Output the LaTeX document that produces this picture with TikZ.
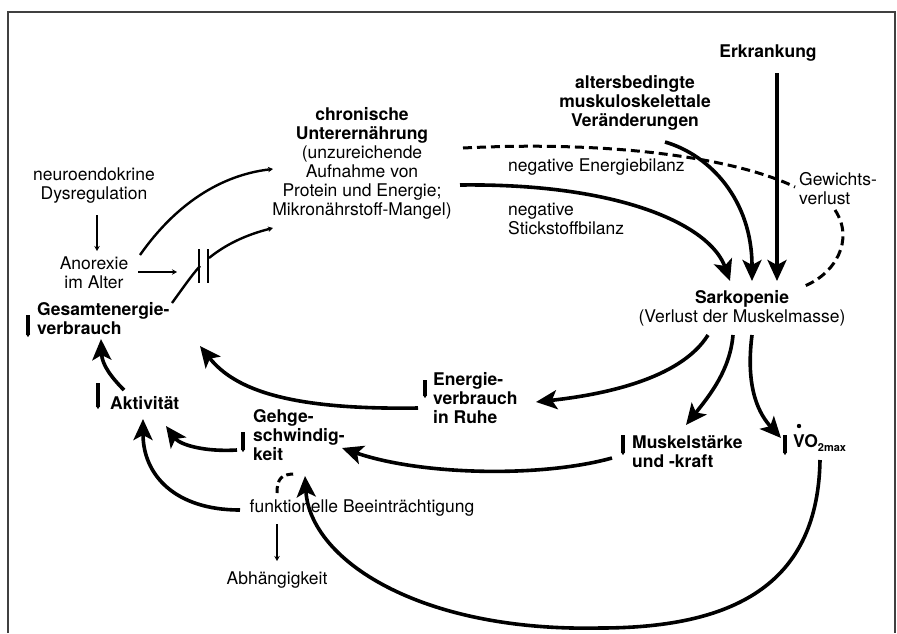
\documentclass[tikz,border=0pt]{standalone}
\usepackage{fontspec}
\setmainfont{TeX Gyre Heros}
\usetikzlibrary{arrows.meta}
\begin{document}
\begin{tikzpicture}[x=1pt,y=-1pt,
  txt/.style={font=\fontsize{17.5}{19}\selectfont, inner sep=0pt, align=center},
  btxt/.style={txt, font=\fontsize{17.5}{19}\selectfont\bfseries},
  bigarrow/.style={line width=3.6pt, -{Stealth[length=21pt,width=19pt,inset=5pt]}},
  thinarrow/.style={line width=2.4pt, -{Stealth[length=5pt,width=5.5pt]}},
  plainline/.style={line width=2.4pt},
  dashline/.style={line width=3pt, dash pattern=on 9pt off 5pt},
  indic/.style={line width=3.4pt, -{Stealth[length=3pt,width=4pt]}},
  frame/.style={line width=1.2pt, draw=black!75}
]
\useasboundingbox (0,0) rectangle (897,633);
\draw[frame] (8,633) -- (8,12) -- (895,12) -- (895,633);

% text nodes
\node[btxt] (erk) at (768,53) {Erkrankung};
\node[btxt] (alt) at (635,103) {altersbedingte\\muskuloskelettale\\Veränderungen};
\node[txt] (chron) at (362,163) {\textbf{chronische}\\\textbf{Unterernährung}\\(unzureichende\\Aufnahme von\\Protein und Energie;\\Mikronährstoff-Mangel)};
\node[txt] (neuro) at (94,185.5) {neuroendokrine\\Dysregulation};
\node[txt] (anor) at (94,273) {Anorexie\\im Alter};
\node[btxt, align=left, anchor=west] (gesamt) at (37,318.5) {Gesamtenergie-\\verbrauch};
\node[btxt, anchor=west] (akt) at (110,403) {Aktivität};
\node[btxt, align=left, anchor=west] (gehge) at (253,435) {Gehge-\\schwindig-\\keit};
\node[btxt, align=left, anchor=west] (energ) at (433,398) {Energie-\\verbrauch\\in Ruhe};
\node[btxt, align=left, anchor=west] (muskel) at (632,452) {Muskelstärke\\und -kraft};
\node[btxt, anchor=west] (vo) at (793,443) {VO\raisebox{-4pt}{\fontsize{11}{11}\selectfont 2max}};
\fill (799,426) circle (2.2pt);
\node[txt] (sark) at (742,308) {\textbf{Sarkopenie}\\(Verlust der Muskelmasse)};
\node[txt] (funk) at (362,508) {funktionelle Beeinträchtigung};
\node[txt] (abh) at (277,580) {Abhängigkeit};
\node[txt, anchor=west] (negE) at (508,167) {negative Energiebilanz};
\node[txt, align=left, anchor=west] (negS) at (508,219) {negative\\Stickstoffbilanz};
\node[txt, align=left, anchor=west] (gew) at (799,189) {Gewichts-\\verlust};

% connector end points
\coordinate (chronR) at (460,185);
\coordinate (chronRd) at (463,148);
\coordinate (sarkA) at (730,281);
\coordinate (sarkB) at (752,281);
\coordinate (sarkC) at (777,281);
\coordinate (altB) at (665,142);
\coordinate (erkB) at (777,73);
\coordinate (gewL) at (795,187);
\coordinate (gewB) at (835,210);
\coordinate (sarkR) at (802,287);
\coordinate (sarkO1) at (708,335);
\coordinate (sarkO2) at (733,335);
\coordinate (sarkO3) at (752,335);
\coordinate (energIn) at (536,402);
\coordinate (energOut) at (418,408);
\coordinate (muskelIn) at (686,425);
\coordinate (muskelOut) at (612,458);
\coordinate (voIn) at (781,438);
\coordinate (voOut) at (820,460);
\coordinate (gesamtIn) at (200,346);
\coordinate (gesamtIn2) at (101,339);
\coordinate (aktOut) at (124,390);
\coordinate (aktIn1) at (166,426);
\coordinate (aktIn2) at (143,419);
\coordinate (gehgeOut) at (237,450);
\coordinate (gehgeIn1) at (342,448);
\coordinate (gehgeIn2) at (305,476);
\coordinate (funkOut) at (240,510);
\coordinate (neuroB) at (97,215);
\coordinate (anorT) at (97,251);
\coordinate (anorR) at (138,272);
\coordinate (barIn) at (177,272);
\coordinate (anorUp) at (140,255);
\coordinate (chronL1) at (273,169);
\coordinate (chronL2) at (273,228);
\coordinate (gesamtUp) at (172,303);
\coordinate (barL) at (200,266);
\coordinate (barR) at (209,258);
\coordinate (funkTop) at (277,493);
\coordinate (funkArc) at (295,474);
\coordinate (funkB) at (277,524);
\coordinate (abhT) at (277,561);

% big arrows into Sarkopenie
\draw[bigarrow] (chronR) .. controls (620,183) and (710,225) .. (sarkA);
\draw[bigarrow] (altB) .. controls (710,155) and (752,200) .. (sarkB);
\draw[bigarrow] (erkB) -- (sarkC);
\draw[dashline] (chronRd) .. controls (620,140) and (740,160) .. (gewL);
\draw[dashline] (gewB) .. controls (855,240) and (835,275) .. (sarkR);

% from Sarkopenie
\draw[bigarrow] (sarkO1) .. controls (680,380) and (600,395) .. (energIn);
\draw[bigarrow] (sarkO2) .. controls (730,370) and (710,395) .. (muskelIn);
\draw[bigarrow] (sarkO3) .. controls (745,390) and (760,415) .. (voIn);

\draw[bigarrow] (energOut) .. controls (290,410) and (235,390) .. (gesamtIn);
\draw[bigarrow] (aktOut) .. controls (112,378) and (102,365) .. (gesamtIn2);
\draw[bigarrow] (muskelOut) .. controls (540,478) and (420,475) .. (gehgeIn1);
\draw[bigarrow] (gehgeOut) .. controls (205,452) and (180,445) .. (aktIn1);
\draw[bigarrow] (funkOut) .. controls (175,510) and (143,475) .. (aktIn2);
\draw[bigarrow] (voOut) .. controls (818,580) and (740,628) .. (600,628)
   .. controls (420,632) and (310,560) .. (gehgeIn2);

% thin arrows
\draw[thinarrow] (neuroB) -- (anorT);
\draw[thinarrow] (anorR) -- (barIn);
\draw[thinarrow] (funkB) -- (abhT);
\draw[thinarrow] (anorUp) .. controls (175,205) and (220,175) .. (chronL1);
\draw[plainline] (gesamtUp) .. controls (185,285) and (192,275) .. (barL);
\draw[thinarrow] (barR) .. controls (225,245) and (245,235) .. (chronL2);
\draw[line width=2.6pt] (199,249) -- (199,283);
\draw[line width=2.6pt] (208,249) -- (208,283);
\draw[line width=3pt, dash pattern=on 7pt off 4pt] (funkTop) .. controls (277,478) and (282,474) .. (funkArc);

% down indicators
\draw[indic] (28,315) -- (28,337);
\draw[indic] (98,383) -- (98,409);
\draw[indic] (243,432) -- (243,452);
\draw[indic] (425,380) -- (425,398);
\draw[indic] (623,435) -- (623,455);
\draw[indic] (785,435) -- (785,455);
\end{tikzpicture}
\end{document}
